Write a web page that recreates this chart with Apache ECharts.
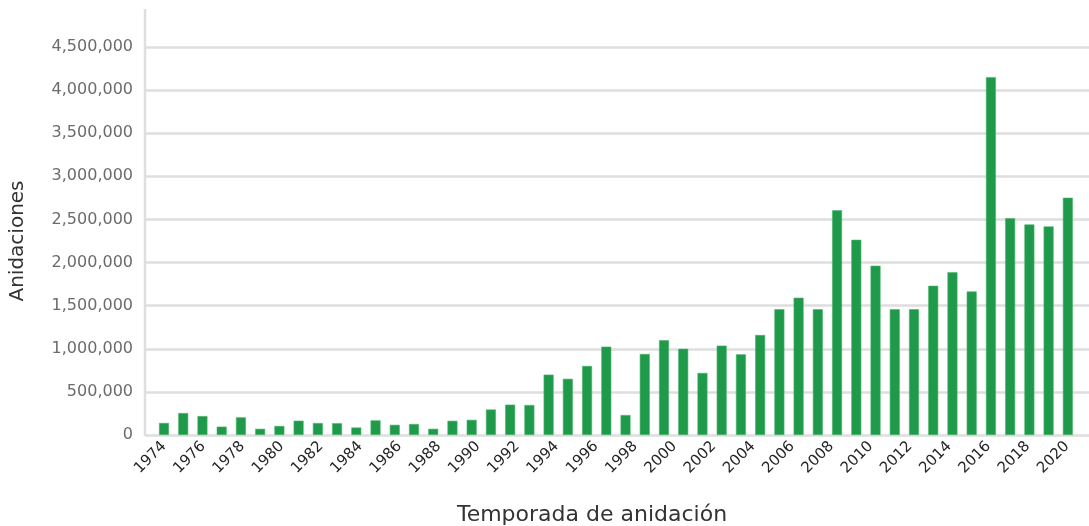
<!DOCTYPE html>
<html>
<head>
<meta charset="utf-8">
<script src="https://cdn.jsdelivr.net/npm/echarts@6/dist/echarts.min.js"></script>
<style>
html,body{margin:0;padding:0;background:#fff;}
#chart{width:1089px;height:526px;}
</style>
</head>
<body>
<div id="chart"></div>
<script>
// Nesting seasons (one bar each)
const seasons = [1974,1975,1976,1977,1978,1979,1980,1981,1982,1983,1984,1985,1986,1987,1988,1989,
  1990,1991,1992,1993,1994,1995,1996,1997,1998,1999,2000,2001,2002,2003,2004,2005,2006,2007,2008,
  2009,2010,2011,2012,2013,2014,2015,2016,2017,2018,2019,2020,2021];
// Nestings per season
const nestings = [140000,255000,220000,97000,205000,72000,105000,166000,139000,137000,87000,170000,
  118000,128000,72000,165000,176000,296000,352000,348000,700000,652000,801000,1025000,232000,
  940000,1100000,1000000,720000,1037000,936000,1160000,1459000,1592000,1459000,2606000,2264000,
  1963000,1459000,1459000,1731000,1889000,1665000,4151000,2515000,2442000,2419000,2752000];
// Tick labels of the horizontal axis
const yearTicks = [1974,1976,1978,1980,1982,1984,1986,1988,1990,1992,1994,1996,1998,2000,
  2002,2004,2006,2008,2010,2012,2014,2016,2018,2020];
const yTitle = 'Anidaciones';
const xTitle = 'Temporada de anidación';

const chart = echarts.init(document.getElementById('chart'), null, {renderer:'canvas'});
const font = 'DejaVu Sans';
chart.setOption({
  animation: false,
  grid: {left: 145, right: 0, top: 47, bottom: 91, containLabel: false},
  xAxis: [
    {type: 'value', min: 1973.012, max: 2022.10, show: false, splitLine: {show: false}},
    {type: 'value', position: 'bottom', min: 1973.032, max: 2021.12,
     axisLine: {show: false}, axisTick: {show: false}, splitLine: {show: false},
     axisLabel: {customValues: yearTicks, rotate: 45, margin: 9, color: '#262626',
       fontFamily: font, fontSize: 15, formatter: v => String(v)}}
  ],
  yAxis: {
    type: 'value', min: 0, max: 4500000, interval: 500000,
    name: yTitle, nameLocation: 'middle', nameGap: 117,
    nameTextStyle: {fontFamily: font, fontSize: 20, color: '#333'},
    axisLine: {show: false}, axisTick: {show: false},
    axisLabel: {color: '#6b6b6b', fontFamily: font, fontSize: 16, margin: 12},
    splitLine: {lineStyle: {color: '#dedede', width: 2.5}}
  },
  graphic: [
    {type: 'line', shape: {x1: 145, y1: 9, x2: 145, y2: 436}, style: {stroke: '#dedede', lineWidth: 2.5}, z: 0},
    {type: 'text', x: 592, y: 515, style: {text: xTitle, fill: '#333', font: '22px "DejaVu Sans"', align: 'center', verticalAlign: 'middle'}}
  ],
  series: [{
    type: 'bar', xAxisIndex: 0, barWidth: 10,
    data: seasons.map((s, i) => [s, nestings[i]]),
    itemStyle: {color: '#1e9a4a', borderColor: '#4fb56f', borderWidth: 0.6}
  }]
});
</script>
</body>
</html>
